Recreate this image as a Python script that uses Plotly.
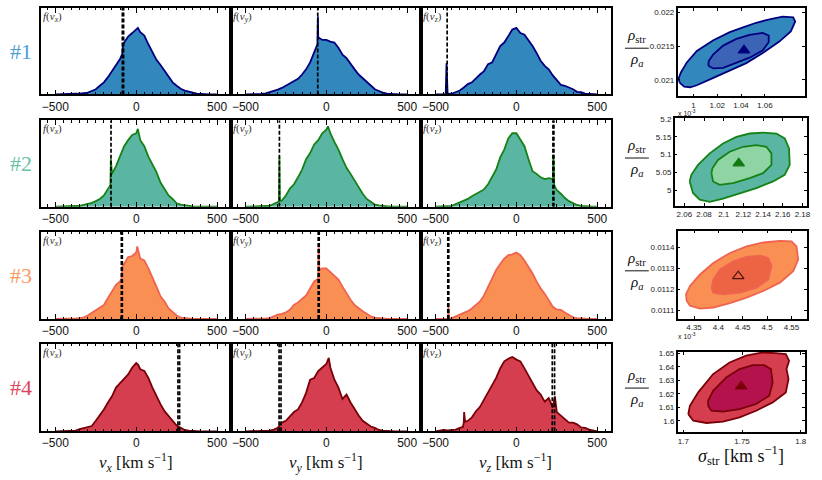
import plotly.graph_objects as go

W, H = 822, 480

# velocity grid of the histograms [km/s]
V = list(range(-500, 501, 25))

# f(v), as a fraction of the panel height
f1x = [0, 0, 0, 0.003, 0.005, 0.008, 0.01, 0.015, 0.02, 0.04, 0.06, 0.1, 0.14, 0.2, 0.27, 0.33, 0.41, 0.6, 0.67, 0.71,
       0.75, 0.72, 0.68, 0.58, 0.48, 0.4, 0.34, 0.27, 0.2, 0.14, 0.1, 0.065, 0.045, 0.03, 0.02, 0.01, 0.005, 0.002, 0, 0, 0]
f1y = [0, 0, 0, 0.002, 0.005, 0.012, 0.025, 0.04, 0.055, 0.075, 0.1, 0.13, 0.15, 0.18, 0.23, 0.29, 0.37, 0.48, 0.66, 0.63,
       0.63, 0.61, 0.6, 0.54, 0.46, 0.42, 0.35, 0.29, 0.23, 0.19, 0.14, 0.1, 0.06, 0.04, 0.02, 0.01, 0.005, 0.002, 0, 0, 0]
f1z = [0, 0, 0, 0.005, 0.008, 0.025, 0.045, 0.08, 0.12, 0.14, 0.19, 0.23, 0.27, 0.35, 0.37, 0.46, 0.56, 0.6, 0.67, 0.75,
       0.77, 0.71, 0.69, 0.63, 0.56, 0.48, 0.39, 0.33, 0.29, 0.22, 0.16, 0.11, 0.1, 0.08, 0.06, 0.03, 0.025, 0.01, 0.005, 0, 0]
f2x = [0, 0, 0, 0.002, 0.005, 0.008, 0.01, 0.02, 0.03, 0.045, 0.065, 0.09, 0.13, 0.21, 0.38, 0.47, 0.58, 0.7, 0.77, 0.83,
       0.85, 0.77, 0.7, 0.58, 0.49, 0.4, 0.28, 0.21, 0.13, 0.09, 0.04, 0.025, 0.015, 0.008, 0.003, 0, 0, 0, 0, 0, 0]
f2y = [0, 0, 0, 0.002, 0.005, 0.008, 0.01, 0.03, 0.055, 0.07, 0.13, 0.21, 0.26, 0.34, 0.43, 0.55, 0.62, 0.72, 0.77, 0.85,
       0.89, 0.85, 0.75, 0.66, 0.55, 0.45, 0.38, 0.3, 0.23, 0.15, 0.09, 0.055, 0.025, 0.015, 0.008, 0.003, 0, 0, 0, 0, 0]
f2z = [0, 0.002, 0.003, 0.005, 0.01, 0.03, 0.05, 0.07, 0.09, 0.12, 0.15, 0.18, 0.2, 0.26, 0.34, 0.43, 0.57, 0.66, 0.79, 0.85,
       0.85, 0.77, 0.7, 0.55, 0.41, 0.38, 0.34, 0.32, 0.33, 0.32, 0.19, 0.15, 0.1, 0.065, 0.04, 0.02, 0.01, 0.005, 0.002, 0, 0]
f3x = [0, 0, 0, 0.002, 0.003, 0.006, 0.01, 0.02, 0.04, 0.07, 0.11, 0.14, 0.16, 0.24, 0.31, 0.39, 0.43, 0.63, 0.71, 0.72,
       0.76, 0.69, 0.67, 0.58, 0.48, 0.37, 0.26, 0.2, 0.12, 0.075, 0.04, 0.015, 0.008, 0.004, 0, 0, 0, 0, 0, 0, 0]
f3y = [0, 0, 0, 0.002, 0.005, 0.007, 0.01, 0.03, 0.05, 0.06, 0.075, 0.105, 0.16, 0.19, 0.23, 0.27, 0.35, 0.43, 0.46, 0.58,
       0.58, 0.54, 0.5, 0.45, 0.37, 0.29, 0.22, 0.16, 0.12, 0.09, 0.06, 0.03, 0.015, 0.008, 0.003, 0, 0, 0, 0, 0, 0]
f3z = [0, 0, 0, 0, 0.01, 0.03, 0.05, 0.07, 0.09, 0.12, 0.16, 0.2, 0.27, 0.37, 0.45, 0.56, 0.63, 0.69, 0.73, 0.74,
       0.76, 0.73, 0.67, 0.6, 0.52, 0.43, 0.35, 0.29, 0.22, 0.14, 0.11, 0.105, 0.075, 0.05, 0.02, 0.01, 0.005, 0.002, 0, 0, 0]
f4x = [0, 0, 0, 0.002, 0.003, 0.008, 0.025, 0.035, 0.045, 0.06, 0.12, 0.18, 0.25, 0.33, 0.4, 0.5, 0.55, 0.61, 0.65, 0.73,
       0.78, 0.71, 0.69, 0.61, 0.5, 0.4, 0.31, 0.23, 0.18, 0.12, 0.065, 0.04, 0.015, 0.008, 0.003, 0, 0, 0, 0, 0, 0]
f4y = [0, 0, 0, 0.002, 0.003, 0.005, 0.008, 0.02, 0.04, 0.1, 0.12, 0.17, 0.22, 0.25, 0.33, 0.44, 0.59, 0.61, 0.69, 0.73,
       0.77, 0.73, 0.59, 0.5, 0.37, 0.42, 0.33, 0.25, 0.18, 0.12, 0.09, 0.055, 0.04, 0.015, 0.008, 0.003, 0, 0, 0, 0, 0]
f4z = [0, 0.005, 0.015, 0.01, 0.015, 0.02, 0.04, 0.1, 0.12, 0.16, 0.23, 0.28, 0.36, 0.45, 0.52, 0.61, 0.72, 0.8, 0.83, 0.85,
       0.82, 0.8, 0.72, 0.64, 0.56, 0.47, 0.42, 0.34, 0.38, 0.27, 0.22, 0.18, 0.14, 0.1, 0.1, 0.08, 0.045, 0.04, 0.02, 0.01, 0]

# narrow spikes that the 25 km/s grid misses: (v, f)
s1x = [(-86, 0.47), (-82, 0.58), (10, 0.77)]
s1y = [(-55, 0.58), (-52, 0.9)]
s1z = [(-437, 0), (-432, 0.36), (-428, 0.01)]
s2x = [(-160, 0.25), (-157, 0.55), (-154, 0.4), (10, 0.9)]
s2y = [(-293, 0.06), (-290, 0.58), (-287, 0.07), (10, 0.93)]
s2z = [(229, 0.6), (234, 0.25)]
s3x = [(-91, 0.46), (-87, 0.6), (6, 0.83)]
s3y = [(-47, 0.82), (-43, 0.56)]
s3z = [(-423, 0), (-420, 0.14), (-417, 0.005)]
s4x = [(12, 0.76)]
s4y = [(15, 0.84)]
s4z = [(-331, 0.05), (-323, 0.22), (-317, 0.11), (238, 0.4)]

# vertical dashed markers [km/s]
m1x, m1y, m1z = [-86, -78], [-53], [-428]
m2x, m2y, m2z = [-156], [-290], [226, 232]
m3x, m3y, m3z = [-92, -86], [-50, -44], [-424, -418]
m4x, m4y, m4z = [258, 268], [-292, -280], [222, 236]

# confidence contours (sigma_str, rho_str/rho_a): outer and inner regions, best fit
c1_out_x = [0.9883, 0.9922, 0.9972, 1.0028, 1.0167, 1.0306, 1.0444, 1.0583, 1.0722, 1.0819, 1.0856,
            1.0839, 1.075, 1.0639, 1.0528, 1.0417, 1.0306, 1.0167, 1.0028, 0.9944, 0.9894, 0.9875]
c1_out_y = [0.02096, 0.0209, 0.02089, 0.02092, 0.02103, 0.02114, 0.02125, 0.0214, 0.02157, 0.02172, 0.02187,
            0.02193, 0.02194, 0.0219, 0.02185, 0.02178, 0.02171, 0.02159, 0.02143, 0.02126, 0.02111, 0.02102]
c1_in_x = [1.0125, 1.0167, 1.025, 1.0361, 1.0472, 1.0583, 1.0633, 1.0633, 1.0583, 1.0472, 1.0361, 1.025, 1.0167, 1.0128]
c1_in_y = [0.02121, 0.02117, 0.02118, 0.02125, 0.02133, 0.02144, 0.02156, 0.02166, 0.0217, 0.02167, 0.02161,
           0.02151, 0.02138, 0.02128]
c1_best = (1.0425, 0.02144)

c2_out_x = [2.0654, 2.0688, 2.0756, 2.0858, 2.0993, 2.1163, 2.1332, 2.1502, 2.162, 2.1671, 2.1664, 2.162,
            2.1536, 2.14, 2.1264, 2.1129, 2.0993, 2.0858, 2.0739, 2.0671]
c2_out_y = [5.025, 4.9926, 4.9741, 4.9676, 4.9769, 4.9926, 5.0065, 5.025, 5.0435, 5.0713, 5.1176, 5.1454,
            5.1593, 5.162, 5.1593, 5.15, 5.1315, 5.1037, 5.0713, 5.0435]
c2_in_x = [2.0875, 2.0892, 2.0959, 2.1095, 2.1264, 2.14, 2.1485, 2.1485, 2.1434, 2.1332, 2.1197, 2.1061, 2.0942, 2.0885]
c2_in_y = [5.0481, 5.025, 5.0157, 5.0204, 5.0343, 5.0481, 5.0713, 5.1037, 5.1222, 5.1269, 5.1222, 5.1083, 5.0852, 5.062]
c2_best = (2.1153, 5.0759)

c3_out_x = [4.335, 4.3418, 4.3623, 4.3896, 4.4238, 4.4579, 4.4921, 4.5262, 4.5535, 4.5638, 4.5604, 4.5501,
            4.5262, 4.4921, 4.4579, 4.4238, 4.3896, 4.3623, 4.3418, 4.3336]
c3_out_y = [0.011145, 0.011121, 0.011108, 0.011113, 0.011134, 0.01116, 0.011192, 0.011232, 0.011287, 0.011342,
            0.011405, 0.011429, 0.011432, 0.011424, 0.011405, 0.011374, 0.011326, 0.011271, 0.011216, 0.011176]
c3_in_x = [4.3862, 4.3896, 4.4101, 4.4443, 4.4784, 4.5023, 4.5091, 4.5023, 4.4852, 4.4579, 4.4306, 4.4033, 4.3896]
c3_in_y = [0.011208, 0.011184, 0.011176, 0.011184, 0.011208, 0.011247, 0.011311, 0.01135, 0.011361, 0.011355,
           0.011334, 0.011295, 0.011247]
c3_best = (4.4408, 0.011263)

c4_out_x = [1.7042, 1.7085, 1.7197, 1.7338, 1.7479, 1.762, 1.7761, 1.7873, 1.7896, 1.7879, 1.7901, 1.7873,
            1.7789, 1.7676, 1.7535, 1.7394, 1.7254, 1.7127, 1.7056]
c4_out_y = [1.6049, 1.6, 1.5983, 1.5993, 1.6025, 1.6074, 1.6136, 1.621, 1.6309, 1.6383, 1.6445, 1.6494,
            1.6501, 1.6506, 1.6482, 1.6432, 1.6346, 1.621, 1.6111]
c4_in_x = [1.7211, 1.7239, 1.7338, 1.7479, 1.762, 1.7732, 1.7761, 1.7746, 1.769, 1.7592, 1.7479, 1.7366, 1.7254, 1.7211]
c4_in_y = [1.6111, 1.6074, 1.6067, 1.6086, 1.6124, 1.6185, 1.6284, 1.6383, 1.6412, 1.6412, 1.6383, 1.6321, 1.6222, 1.6148]
c4_best = (1.7493, 1.6254)

# contour axis ticks
cx_ticks = [[1, 1.02, 1.04, 1.06], [2.06, 2.08, 2.1, 2.12, 2.14, 2.16, 2.18],
            [4.35, 4.4, 4.45, 4.5, 4.55], [1.7, 1.75, 1.8]]
cy_ticks = [[0.021, 0.0215, 0.022], [5, 5.05, 5.1, 5.15, 5.2],
            [0.0111, 0.0112, 0.0113, 0.0114], [1.6, 1.61, 1.62, 1.63, 1.64, 1.65]]

# ---- layout geometry (pixels) ----
COLS = [(41, 232), (232, 423), (423, 614)]
ROWS = [(5, 92), (118, 205), (230, 318), (343, 431)]
CDOM = [((681, 809), (5, 94)), ((678, 811), (116, 204)), ((681, 811), (229, 318)), ((681, 809), (351, 432))]
CXR = [[0.9867, 1.0939], [2.0502, 2.1847], [4.3165, 4.582], [1.6952, 1.8037]]
CYR = [[0.020754, 0.02207], [4.957, 5.202], [0.011058, 0.011481], [1.5914, 1.6511]]

styles = [
    dict(fill="#3288bd", edge="#00007f", lab="#4c9ed6", cin="#3c64b6", tri="#00007f", sym="triangle-up"),
    dict(fill="#5ab5a3", edge="#168216", lab="#66c2a5", cin="#8fd5a4", tri="#137a13", sym="triangle-up"),
    dict(fill="#f98f53", edge="#ef6350", lab="#fb9a5e", cin="#ec6444", tri="#4a1410", sym="triangle-up-open"),
    dict(fill="#d53e4f", edge="#7a0008", lab="#d9485a", cin="#b3124c", tri="#7a0008", sym="triangle-up"),
]
F = [[f1x, f1y, f1z], [f2x, f2y, f2z], [f3x, f3y, f3z], [f4x, f4y, f4z]]
S = [[s1x, s1y, s1z], [s2x, s2y, s2z], [s3x, s3y, s3z], [s4x, s4y, s4z]]
M = [[m1x, m1y, m1z], [m2x, m2y, m2z], [m3x, m3y, m3z], [m4x, m4y, m4z]]
C = [(c1_out_x, c1_out_y, c1_in_x, c1_in_y, c1_best), (c2_out_x, c2_out_y, c2_in_x, c2_in_y, c2_best),
     (c3_out_x, c3_out_y, c3_in_x, c3_in_y, c3_best), (c4_out_x, c4_out_y, c4_in_x, c4_in_y, c4_best)]

SERIF = "Liberation Serif"
SANS = "Liberation Sans"


def dom_x(a, b):
    return [a / W, b / W]


def dom_y(a, b):
    return [1 - b / H, 1 - a / H]


def ax(k):
    return ("", "") if k == 1 else (str(k), str(k))


fig = go.Figure()
layout = {}
annotations = []
shapes = []

for r in range(4):
    st = styles[r]
    for c in range(3):
        k = r * 3 + c + 1
        sx, sy = ax(k)
        pts = sorted(list(zip(V, F[r][c])) + S[r][c])
        xs = [p[0] for p in pts]
        ys = [p[1] for p in pts]
        fig.add_trace(go.Scatter(x=xs, y=ys, mode="lines", fill="tozeroy", fillcolor=st["fill"],
                                 line=dict(color=st["edge"], width=1.8), xaxis="x" + sx, yaxis="y" + sy,
                                 hoverinfo="skip"))
        for v in M[r][c]:
            fig.add_trace(go.Scatter(x=[v, v], y=[0, 1], mode="lines",
                                     line=dict(color="black", width=1.7, dash="4px,2px"),
                                     xaxis="x" + sx, yaxis="y" + sy, hoverinfo="skip"))
        layout["xaxis" + sx] = dict(
            domain=dom_x(*COLS[c]), anchor="y" + sy, range=[-590, 585],
            tickmode="linear", tick0=0, dtick=500, ticks="inside", ticklen=5, tickcolor="black",
            minor=dict(ticks="inside", ticklen=2.5, dtick=50, tick0=0, tickcolor="black"),
            showline=True, linecolor="black", linewidth=1.5, mirror="ticks",
            showgrid=False, zeroline=False, tickfont=dict(family=SANS, size=12, color="#111"))
        layout["yaxis" + sy] = dict(
            domain=dom_y(*ROWS[r]), anchor="x" + sx, range=[0, 1], showticklabels=False, ticks="",
            showline=True, linecolor="black", linewidth=1.5, mirror=True, showgrid=False, zeroline=False)
        comp = "xyz"[c]
        annotations.append(dict(xref="x%s domain" % sx, yref="y%s domain" % sy, x=0.0, y=1.0,
                                xanchor="left", yanchor="top", showarrow=False,
                                text="<i>f</i>(<i>v</i><sub><i>%s</i></sub>)" % comp,
                                font=dict(family=SERIF, size=11, color="#333")))
    # row label
    annotations.append(dict(xref="paper", yref="paper", x=21 / W, y=1 - (sum(ROWS[r]) / 2) / H,
                            text="#%d" % (r + 1), showarrow=False, xanchor="center", yanchor="middle",
                            font=dict(family=SERIF, size=22, color=st["lab"])))

    # contour panel
    k = 13 + r
    sx, sy = ax(k)
    ox, oy, ix, iy, best = C[r]
    fig.add_trace(go.Scatter(x=ox + ox[:1], y=oy + oy[:1], mode="lines", fill="toself", fillcolor=st["fill"],
                             line=dict(color=st["edge"], width=1.8), xaxis="x" + sx, yaxis="y" + sy,
                             hoverinfo="skip"))
    fig.add_trace(go.Scatter(x=ix + ix[:1], y=iy + iy[:1], mode="lines", fill="toself", fillcolor=st["cin"],
                             line=dict(color=st["edge"], width=1.8), xaxis="x" + sx, yaxis="y" + sy,
                             hoverinfo="skip"))
    fig.add_trace(go.Scatter(x=[best[0]], y=[best[1]], mode="markers",
                             marker=dict(symbol=st["sym"], size=10, color=st["tri"],
                                         line=dict(color=st["tri"], width=1.2)),
                             xaxis="x" + sx, yaxis="y" + sy, hoverinfo="skip"))
    (x0, x1), (y0, y1) = CDOM[r]
    layout["xaxis" + sx] = dict(
        domain=dom_x(x0, x1), anchor="y" + sy, range=CXR[r], tickmode="array", tickvals=cx_ticks[r],
        ticktext=["%g" % t for t in cx_ticks[r]], ticks="inside", ticklen=3, tickcolor="black",
        showline=True, linecolor="black", linewidth=1.5, mirror="ticks", showgrid=False, zeroline=False,
        tickfont=dict(family=SANS, size=8, color="#222"))
    layout["yaxis" + sy] = dict(
        domain=dom_y(y0, y1), anchor="x" + sx, range=CYR[r], tickmode="array", tickvals=cy_ticks[r],
        ticktext=["%g" % t for t in cy_ticks[r]], ticks="inside", ticklen=3, tickcolor="black",
        showline=True, linecolor="black", linewidth=1.5, mirror="ticks", showgrid=False, zeroline=False,
        tickfont=dict(family=SANS, size=8, color="#222"))
    # rho_str / rho_a fraction label
    cy = (y0 + y1) / 2 - 4
    annotations.append(dict(xref="paper", yref="paper", x=640 / W, y=1 - (cy - 1) / H, showarrow=False,
                            xanchor="center", yanchor="bottom", text="<i>ρ</i><sub>str</sub>",
                            font=dict(family=SERIF, size=15, color="#111")))
    annotations.append(dict(xref="paper", yref="paper", x=640 / W, y=1 - (cy + 1) / H, showarrow=False,
                            xanchor="center", yanchor="top", text="<i>ρ</i><sub><i>a</i></sub>",
                            font=dict(family=SERIF, size=15, color="#111")))
    shapes.append(dict(type="line", xref="paper", yref="paper", x0=628 / W, x1=652 / W,
                       y0=1 - cy / H, y1=1 - cy / H, line=dict(color="#111", width=1)))

# axis titles
for c, comp in enumerate("xyz"):
    annotations.append(dict(xref="paper", yref="paper", x=(sum(COLS[c]) / 2) / W, y=1 - 462 / H,
                            showarrow=False, xanchor="center", yanchor="middle",
                            text="<i>v</i><sub><i>%s</i></sub> [km s<sup>−1</sup>]" % comp,
                            font=dict(family=SERIF, size=17, color="#111")))
annotations.append(dict(xref="paper", yref="paper", x=745 / W, y=1 - 455 / H, showarrow=False,
                        xanchor="center", yanchor="middle", text="<i>σ</i><sub>str</sub> [km s<sup>−1</sup>]",
                        font=dict(family=SERIF, size=18, color="#111")))
for py in (111, 335):
    annotations.append(dict(xref="paper", yref="paper", x=679 / W, y=1 - py / H, showarrow=False,
                            xanchor="left", yanchor="middle", text="x 10<sup>-3</sup>",
                            font=dict(family=SANS, size=7, color="#222")))

fig.update_layout(**layout)
fig.update_layout(width=W, height=H, margin=dict(l=0, r=0, t=0, b=0), paper_bgcolor="white",
                  plot_bgcolor="white", showlegend=False, annotations=annotations, shapes=shapes)

fig.write_html("out.html", config={"displayModeBar": False},
               post_script="document.body.style.margin='0';document.body.style.overflow='hidden';")
